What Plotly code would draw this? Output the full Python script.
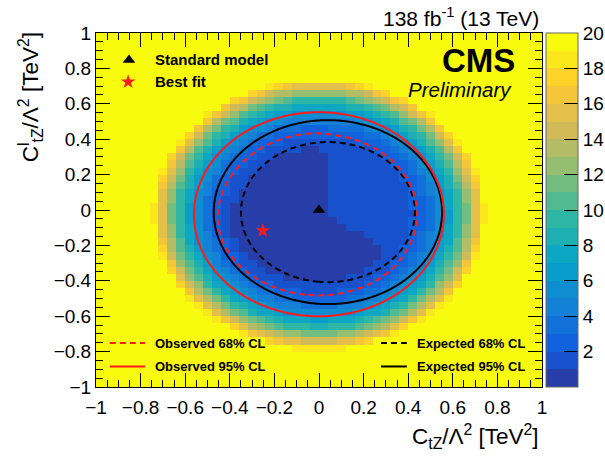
import numpy as np
import plotly.graph_objects as go

# ---------------------------------------------------------------------------
# Scan definition and -2 delta lnL surface parameters
# ---------------------------------------------------------------------------
N_BINS = 50
AXIS_MIN, AXIS_MAX = -1.0, 1.0
Z_MIN, Z_MAX = 0.0, 20.0
CBAR_TICKS = [2, 4, 6, 8, 10, 12, 14, 16, 18, 20]
AXIS_TICKS = [-1.0, -0.8, -0.6, -0.4, -0.2, 0.0, 0.2, 0.4, 0.6, 0.8, 1.0]

# observed scan: quartic rise around an elliptic core, a shallow valley
# towards the best fit and a raised wedge in the upper-right quadrant
OBS_CENTER = (0.0, -0.024)
OBS_Y_STRETCH = 1.03
OBS_COEF = (-1.27, 65.1)           # rho^2, rho^4 coefficients
VALLEY_DEPTH, VALLEY_WIDTH = 0.7, 0.14
WEDGE_APEX = (0.02, -0.02)
WEDGE_ANGLES = (-40.0, 90.0)       # degrees
WEDGE_HEIGHT, WEDGE_RADIUS = 1.2, 0.38

# expected (Asimov) scan
EXP_CENTER = (0.04, -0.012)
EXP_Y_STRETCH = 1.015
EXP_COEF = (11.2, 169.5)           # rho^2, rho^6 coefficients

BEST_FIT = (-0.252, -0.117)
SM_POINT = (0.0, 0.0)
CL_68, CL_95 = 2.30, 5.99          # 2D chi2 quantiles


def sigmoid(t):
    return 1.0 / (1.0 + np.exp(-t))


def radial(x, y, center, stretch):
    return np.sqrt((x - center[0]) ** 2 + ((y - center[1]) / stretch) ** 2)


def observed_q(x, y):
    rho = radial(x, y, OBS_CENTER, OBS_Y_STRETCH)
    q = OBS_COEF[0] * rho ** 2 + OBS_COEF[1] * rho ** 4
    d2 = (x - BEST_FIT[0]) ** 2 + (y - BEST_FIT[1]) ** 2
    q = q - VALLEY_DEPTH * np.exp(-d2 / (2 * VALLEY_WIDTH ** 2))
    theta = np.degrees(np.arctan2(y - WEDGE_APEX[1], x - WEDGE_APEX[0]))
    wedge = sigmoid((theta - WEDGE_ANGLES[0]) / 3.0) * sigmoid((WEDGE_ANGLES[1] - theta) / 3.0)
    q = q + WEDGE_HEIGHT * wedge * np.exp(-(rho / WEDGE_RADIUS) ** 6)
    return np.clip(q, 0.0, None)


def expected_q(x, y):
    rho = radial(x, y, EXP_CENTER, EXP_Y_STRETCH)
    return EXP_COEF[0] * rho ** 2 + EXP_COEF[1] * rho ** 6


# ROOT "kBird" palette (255 colours), sampled for 20 contour bands the way
# ROOT picks a palette index per contour level
BIRD_STOPS = [0.0, 0.125, 0.25, 0.375, 0.5, 0.625, 0.75, 0.875, 1.0]
BIRD_R = [0.2082, 0.0592, 0.0780, 0.0232, 0.1802, 0.5301, 0.8186, 0.9956, 0.9764]
BIRD_G = [0.1664, 0.3599, 0.5041, 0.6419, 0.7178, 0.7492, 0.7328, 0.7862, 0.9832]
BIRD_B = [0.5293, 0.8684, 0.8385, 0.7914, 0.6425, 0.4662, 0.3499, 0.1968, 0.0539]
N_BANDS = 20
N_PALETTE = 255


def bird(t):
    r = np.interp(t, BIRD_STOPS, BIRD_R)
    g = np.interp(t, BIRD_STOPS, BIRD_G)
    b = np.interp(t, BIRD_STOPS, BIRD_B)
    return "rgb(%d,%d,%d)" % (round(r * 255), round(g * 255), round(b * 255))


colorscale = []
for i in range(N_BANDS):
    idx = min(int((i + 0.99) * N_PALETTE / N_BANDS), N_PALETTE - 1)
    c = bird(idx / (N_PALETTE - 1))
    colorscale.append([i / N_BANDS, c])
    colorscale.append([(i + 1) / N_BANDS, c])

# binned histogram for the colour map
edges = np.linspace(AXIS_MIN, AXIS_MAX, N_BINS + 1)
centers = 0.5 * (edges[:-1] + edges[1:])
XC, YC = np.meshgrid(centers, centers)
z_hist = observed_q(XC, YC)

# fine grid for smooth contour lines
fine = np.linspace(AXIS_MIN, AXIS_MAX, 401)
XF, YF = np.meshgrid(fine, fine)
z_obs_fine = observed_q(XF, YF)
z_exp_fine = expected_q(XF, YF)

FONT = "Liberation Sans, Arial, Helvetica, sans-serif"
RED = "#ff1a1a"

fig = go.Figure()

fig.add_trace(go.Heatmap(
    x=centers, y=centers, z=z_hist, zmin=Z_MIN, zmax=Z_MAX,
    colorscale=colorscale, zsmooth=False, hoverinfo="skip",
    colorbar=dict(
        x=1.009, xanchor="left", y=0.5, yanchor="middle",
        len=1.0, lenmode="fraction", thickness=32,
        xpad=0, ypad=0, outlinewidth=1, outlinecolor="#666",
        tickvals=CBAR_TICKS, ticks="inside", ticklen=14, tickwidth=1,
        tickcolor="black",
        tickfont=dict(family=FONT, size=19, color="black"),
    ),
))


def contour_line(z, level, color, dash):
    return go.Contour(
        x=fine, y=fine, z=z, autocontour=False,
        contours=dict(start=level, end=level, size=1.0, coloring="none"),
        line=dict(color=color, width=2, dash=dash),
        showscale=False, hoverinfo="skip", showlegend=False,
    )


fig.add_trace(contour_line(z_exp_fine, CL_68, "black", "6px,4px"))
fig.add_trace(contour_line(z_exp_fine, CL_95, "black", "solid"))
fig.add_trace(contour_line(z_obs_fine, CL_68, RED, "6px,4px"))
fig.add_trace(contour_line(z_obs_fine, CL_95, RED, "solid"))

fig.add_trace(go.Scatter(
    x=[SM_POINT[0]], y=[SM_POINT[1]], mode="markers",
    marker=dict(symbol="triangle-up", size=11, color="black"),
    hoverinfo="skip", showlegend=False,
))
fig.add_trace(go.Scatter(
    x=[BEST_FIT[0]], y=[BEST_FIT[1]], mode="markers",
    marker=dict(symbol="star", size=11, color=RED),
    hoverinfo="skip", showlegend=False,
))

# legend glyphs on an overlay axis spanning the frame in [0, 1]
fig.add_trace(go.Scatter(
    x=[0.074], y=[0.924], xaxis="x2", yaxis="y2", mode="markers",
    marker=dict(symbol="triangle-up", size=11, color="black"),
    hoverinfo="skip", showlegend=False,
))
fig.add_trace(go.Scatter(
    x=[0.072], y=[0.862], xaxis="x2", yaxis="y2", mode="markers",
    marker=dict(symbol="star", size=11, color=RED),
    hoverinfo="skip", showlegend=False,
))

shapes = []
for (x0, x1, y, color, dash) in [
    (0.031, 0.110, 0.124, RED, "6px,4px"),
    (0.031, 0.110, 0.058, RED, "solid"),
    (0.639, 0.697, 0.124, "black", "6px,4px"),
    (0.639, 0.697, 0.058, "black", "solid"),
]:
    shapes.append(dict(type="line", xref="paper", yref="paper",
                       x0=x0, x1=x1, y0=y, y1=y,
                       line=dict(color=color, width=2, dash=dash)))

annotations = []


def text(x, y, s, size, xanchor="left", yanchor="middle", bold=False,
         italic=False, angle=0):
    s = "<b>%s</b>" % s if bold else s
    s = "<i>%s</i>" % s if italic else s
    annotations.append(dict(
        x=x, y=y, xref="paper", yref="paper", text=s, showarrow=False,
        xanchor=xanchor, yanchor=yanchor, textangle=angle,
        font=dict(family=FONT, size=size, color="black"),
    ))


text(0.128, 0.924, "Standard model", 15, bold=True)
text(0.128, 0.862, "Best fit", 15, bold=True)
text(0.128, 0.124, "Observed 68% CL", 13, bold=True)
text(0.128, 0.058, "Observed 95% CL", 13, bold=True)
text(0.715, 0.124, "Expected 68% CL", 13, bold=True)
text(0.715, 0.058, "Expected 95% CL", 13, bold=True)
text(0.944, 0.921, "CMS", 33, xanchor="right", bold=True)
text(0.937, 0.839, "Preliminary", 20.5, xanchor="right", italic=True)
text(0.998, 1.045, "138 fb<sup>-1</sup> (13 TeV)", 21, xanchor="right")
text(0.998, -0.141, "C<sub>tZ</sub>/Λ<sup>2</sup> [TeV<sup>2</sup>]", 22.5,
     xanchor="right")
text(-0.148, 1.008, "C<sup>l</sup><sub>tZ</sub>/Λ<sup>2</sup> [TeV<sup>2</sup>]", 22.5,
     xanchor="center", yanchor="top", angle=-90)

axis_common = dict(
    range=[AXIS_MIN, AXIS_MAX], tickvals=AXIS_TICKS,
    showline=True, linecolor="black", linewidth=1, mirror="allticks",
    ticks="inside", ticklen=14, tickwidth=1, tickcolor="black",
    minor=dict(ticks="inside", ticklen=7, dtick=0.05, tickcolor="black",
               showgrid=False),
    showgrid=False, zeroline=False,
    tickfont=dict(family=FONT, size=19, color="black"),
)

fig.update_layout(
    width=605, height=459,
    margin=dict(l=96, r=63, t=33, b=72, autoexpand=False),
    paper_bgcolor="white", plot_bgcolor="white",
    xaxis=dict(**axis_common, ticklabelstandoff=3),
    yaxis=dict(**axis_common),
    xaxis2=dict(overlaying="x", range=[0, 1], visible=False, anchor="y2"),
    yaxis2=dict(overlaying="y", range=[0, 1], visible=False, anchor="x2"),
    shapes=shapes, annotations=annotations, showlegend=False,
)

fig.write_html("out.html")
